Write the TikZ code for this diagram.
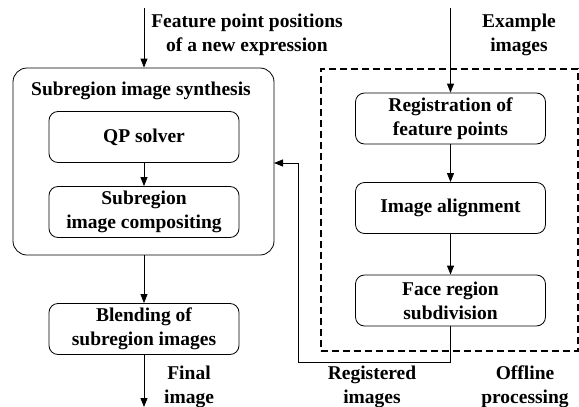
\documentclass[tikz,border=0pt]{standalone}
\usepackage{fontspec}
\setmainfont{Liberation Serif}
\usetikzlibrary{arrows.meta}
\begin{document}
\begin{tikzpicture}[x=1pt,y=-1pt,
  every node/.style={font=\fontsize{19.5}{24}\selectfont\bfseries, align=center, inner sep=0pt},
  procbox/.style={draw, line width=0.8pt, rounded corners=9pt, minimum width=190pt, minimum height=51pt},
  arr/.style={line width=0.8pt, -{Triangle[length=9pt,width=7pt]}},
  ln/.style={line width=0.8pt}]
\useasboundingbox (0,0) rectangle (579,407);
% outer synthesis box
\node[draw, line width=0.8pt, rounded corners=14pt, minimum width=261pt, minimum height=187pt] (outer) at (143.5,161.5) {};
\node (title) at (141,91) {Subregion image synthesis};
\node[procbox] (qp) at (144,137) {QP solver};
\node[procbox] (comp) at (144,212) {Subregion\\image compositing};
\node[procbox] (blend) at (144,329) {Blending of\\subregion images};
% offline dashed box
\node[draw, line width=2pt, dash pattern=on 7pt off 4pt, minimum width=257pt, minimum height=282pt] (off) at (449,210) {};
\node[procbox] (reg) at (450.5,118.5) {Registration of\\feature points};
\node[procbox] (align) at (450.5,208) {Image alignment};
\node[procbox] (face) at (450.5,300.5) {Face region\\subdivision};
% labels
\node (feat) at (247,35) {Feature point positions\\of a new expression};
\node (ex) at (519,35) {Example\\images};
\node (final) at (189,387) {Final\\image};
\node (regi) at (372,387) {Registered\\images};
\node (offl) at (525,387) {Offline\\processing};
% coordinates
\coordinate (t1) at (144,8);
\coordinate (t2) at (450.5,8);
\coordinate (b1) at (144,407);
\coordinate (c1) at (450.5,362);
\coordinate (c2) at (298,362);
\coordinate (c3) at (298,163);
\coordinate (c4) at (274,163);
% arrows
\draw[arr] (t1) -- (outer.north -| t1);
\draw[arr] (qp) -- (comp);
\draw[arr] (outer.south -| blend) -- (blend);
\draw[arr] (blend) -- (b1);
\draw[arr] (t2) -- (reg);
\draw[arr] (reg) -- (align);
\draw[arr] (align) -- (face);
\draw[ln] (face.south) -- (c1) -- (c2) -- (c3);
\draw[arr] (c3) -- (c4);
\end{tikzpicture}
\end{document}
